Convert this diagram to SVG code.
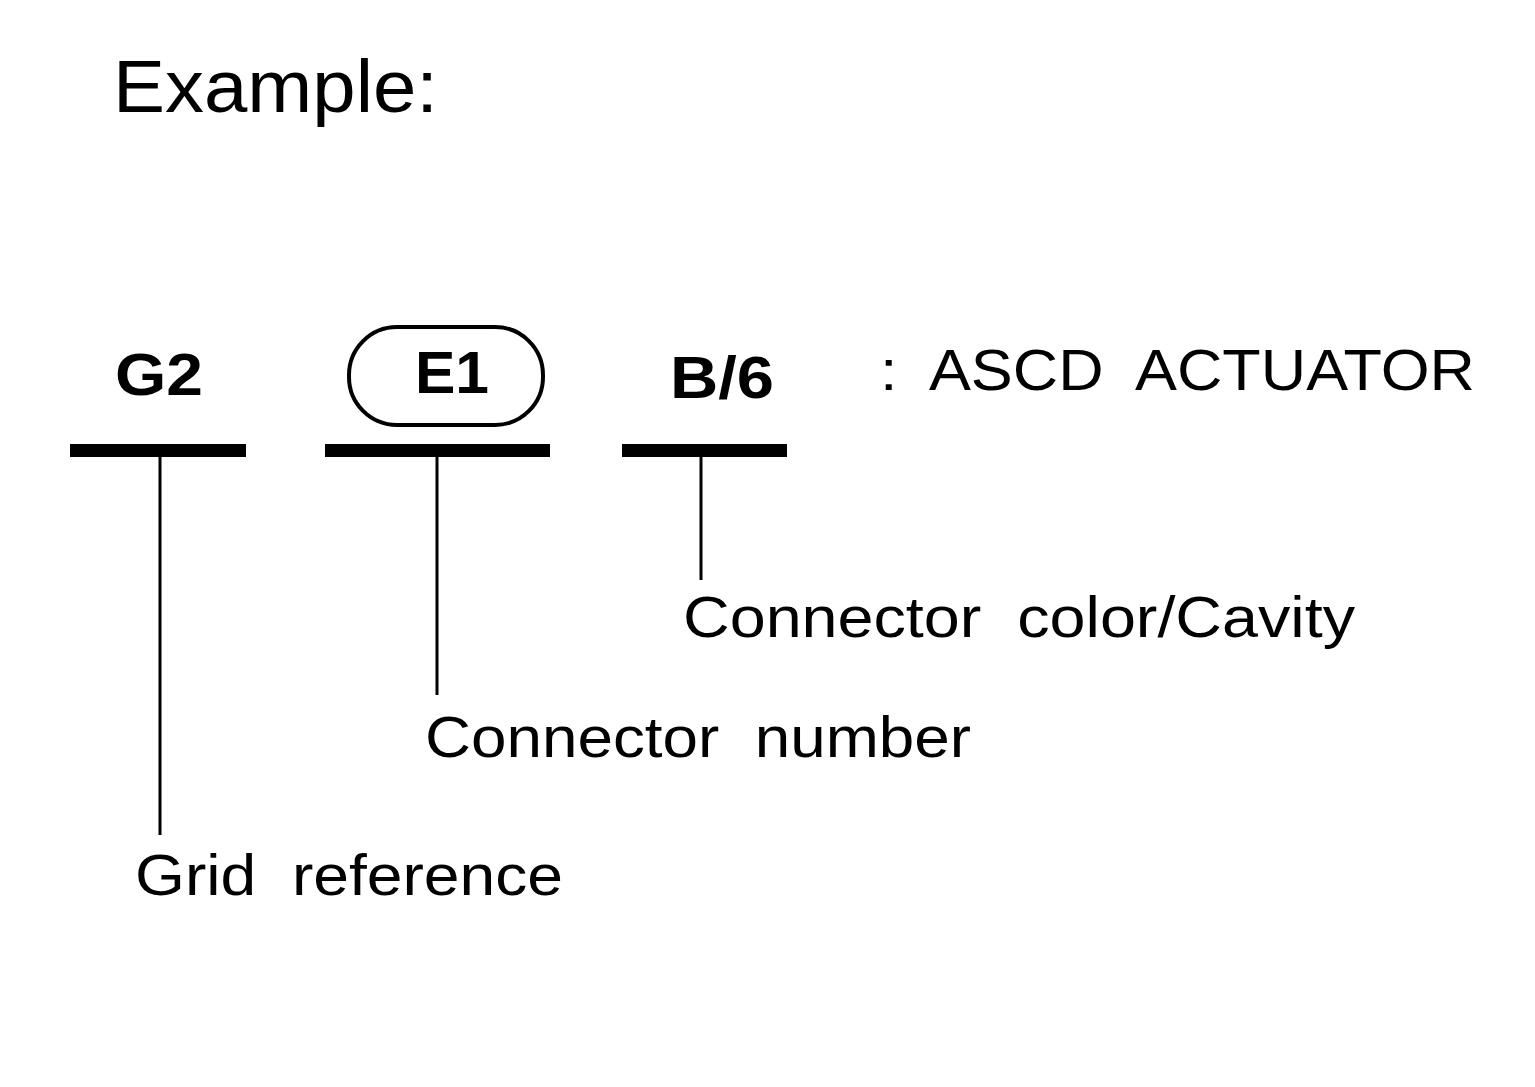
<svg xmlns="http://www.w3.org/2000/svg" width="1535" height="1087" viewBox="0 0 1535 1087">
<style>
text{font-family:"Liberation Sans",Arial,sans-serif;fill:#000;white-space:pre}
.b{font-weight:bold;font-size:60px}
.r{font-size:58px}
.bar{fill:#000}
.ln{stroke:#000;stroke-width:3;fill:none}
</style>
<rect width="1535" height="1087" fill="#fff"/>
<text x="113" y="112" font-size="74" textLength="325" lengthAdjust="spacingAndGlyphs">Example:</text>
<g id="g2"><text class="b" x="115" y="395" textLength="88" lengthAdjust="spacingAndGlyphs">G2</text><rect class="bar" x="70" y="444" width="176" height="13"/></g>
<g id="e1"><rect x="349" y="327" width="194" height="98" rx="48" fill="none" stroke="#000" stroke-width="4"/><text class="b" x="415" y="393" textLength="74" lengthAdjust="spacingAndGlyphs">E1</text><rect class="bar" x="325" y="444" width="225" height="13"/></g>
<g id="b6"><text class="b" x="670" y="398" textLength="104" lengthAdjust="spacingAndGlyphs">B/6</text><rect class="bar" x="622" y="444" width="165" height="13"/></g>
<g id="title"><text class="r" x="880" y="390" textLength="595" lengthAdjust="spacingAndGlyphs" xml:space="preserve">:  ASCD  ACTUATOR</text></g>
<g id="connectors"><line class="ln" x1="160" y1="457" x2="160" y2="835"/><line class="ln" x1="437" y1="457" x2="437" y2="695"/><line class="ln" x1="701" y1="457" x2="701" y2="580"/></g>
<g id="lbl1"><text class="r" x="683" y="637" textLength="672" lengthAdjust="spacingAndGlyphs" xml:space="preserve">Connector  color/Cavity</text></g>
<g id="lbl2"><text class="r" x="425" y="757" textLength="546" lengthAdjust="spacingAndGlyphs" xml:space="preserve">Connector  number</text></g>
<g id="lbl3"><text class="r" x="135" y="895" textLength="428" lengthAdjust="spacingAndGlyphs" xml:space="preserve">Grid  reference</text></g>
</svg>
